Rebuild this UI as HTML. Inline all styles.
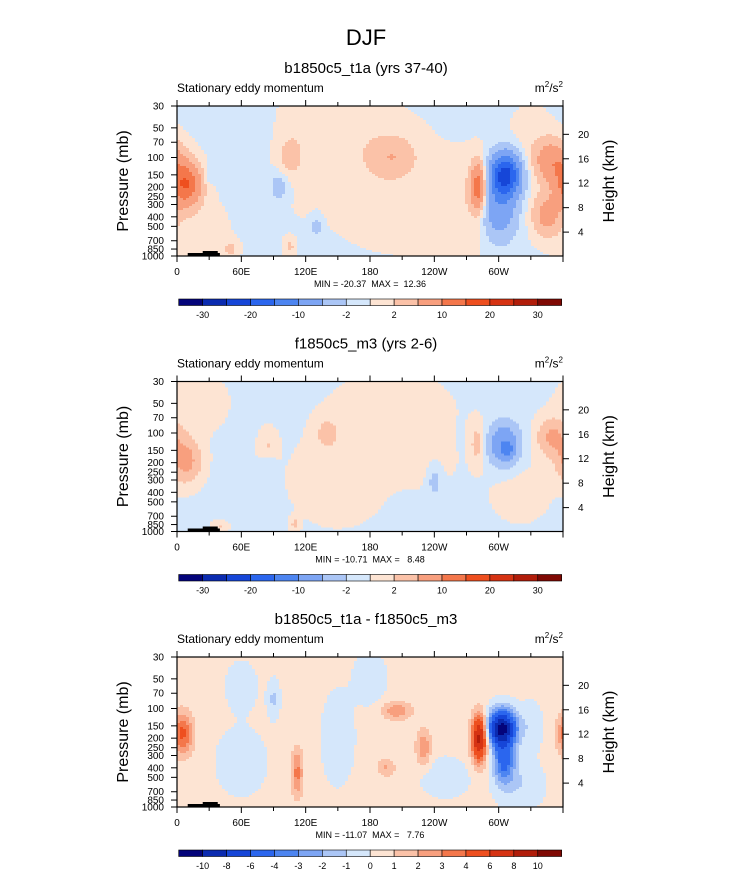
<!DOCTYPE html>
<html><head><meta charset="utf-8">
<style>
body{margin:0;background:#fff;font-family:"Liberation Sans",sans-serif}
svg text{font-family:"Liberation Sans",sans-serif;fill:#000;white-space:pre}
</style></head>
<body>
<svg id="s" width="733" height="888" xmlns="http://www.w3.org/2000/svg">
<text x="366" y="45" font-size="22" text-anchor="middle">DJF</text>
</svg>
<script>
// Data: features [lon(deg E 0-360), pressure(mb), amplitude, sigmaLon(deg), sigmaLnP]
const base1 = -0.4;
const blobs1 = [[8,190,15,10,0.35],[306,150,-22,10,0.35],[300,350,-8,12,0.5],[281,200,13,5,0.4],[350,110,9,12,0.35],[345,380,7,10,0.35],
 [201,100,4,15,0.3],[105,100,3.5,8,0.3],[95,200,-3.5,6,0.25],[130,500,-3,4,0.2],[30,150,-2.5,3,0.15],[105,800,3,4,0.15],[50,850,3,5,0.15],
 [150,60,1.4,30,0.8],[200,250,1.5,60,0.5],[200,70,1.2,25,0.5],[270,300,1.3,20,0.9],[20,600,1.2,20,0.6],[330,60,1.2,15,0.5],[110,45,1.2,10,0.4],[230,650,1.2,40,0.3]];
const base2 = -0.4;
const blobs2 = [[8,190,7,10,0.35],[305,130,-9,10,0.35],[308,150,-6,4,0.12],[350,110,6,10,0.3],[280,130,3.5,5,0.35],[140,100,3,8,0.25],[85,150,3,6,0.3],[85,200,-3,5,0.2],[240,300,-3,5,0.3],
 [110,850,3,3,0.12],[40,900,2.5,5,0.1],[150,300,1.5,30,0.7],[200,60,1.3,40,0.6],[320,400,1.2,20,0.5],[20,50,1.2,20,0.5],[230,200,1.2,20,0.4]];
const base3 = 0.3;
const blobs3 = [[282,200,8.5,5,0.38],[303,160,-11,9,0.3],[305,350,-4.5,7,0.35],[5,180,4,7,0.35],[112,450,3,4,0.4],[205,105,2.5,10,0.15],[230,250,2.5,5,0.3],[195,400,1.8,6,0.15],
 [90,80,-1.5,4,0.3],[150,200,-1.2,10,0.7],[60,350,-1.2,15,0.5],[250,500,-1.2,15,0.3],[320,600,-1.2,15,0.4],[180,50,-1.2,10,0.4],[60,60,-1,10,0.4],[330,150,-1,8,0.4]];
const edges12 = [-30,-25,-20,-15,-10,-5,-2,0,2,5,10,15,20,25,30];
const labels12 = ["-30","-20","-10","-2","2","10","20","30"];
const edges3 = [-10,-8,-6,-4,-3,-2,-1,0,1,2,3,4,6,8,10];
const labels3 = ["-10","-8","-6","-4","-3","-2","-1","0","1","2","3","4","6","8","10"];
const titles = ["b1850c5_t1a (yrs 37-40)","f1850c5_m3 (yrs 2-6)","b1850c5_t1a - f1850c5_m3"];
const minmax = ["MIN = -20.37  MAX =  12.36","MIN = -10.71  MAX =   8.48","MIN = -11.07  MAX =   7.76"];
const pTicks = [30,50,70,100,150,200,250,300,400,500,700,850,1000];
const hTicks = [20,16,12,8,4];
const lonLabels = ["0","60E","120E","180","120W","60W"];
const colors = ["#04047a","#0b2bb0","#1646d8","#2b66ee","#4d85f1","#7da5f4","#abc6f6","#d5e7fb","#fde4d3","#fbc2a8","#f89f7e","#f4774b","#ee4f1f","#d63313","#b11d0a","#7f0904"];

const NS="http://www.w3.org/2000/svg", S=document.getElementById('s');
function mk(t,a,p){const e=document.createElementNS(NS,t);for(const k in a)e.setAttribute(k,a[k]);(p||S).appendChild(e);return e;}
const X0=177,X1=563,W=X1-X0;
function xLon(l){return X0+l/360*W;}
function yP(p,top){return top+150*Math.log(p/30)/Math.log(1000/30);}
function yH(h,top){const p=1013*Math.exp(-h/7);return yP(p,top);}
function field(lon,p,base,blobs){let v=base;const lp=Math.log(p);
 for(const b of blobs){let d=Math.abs(lon-b[0]);if(d>180)d=360-d;const q=(lp-Math.log(b[1]))/b[4];v+=b[2]*Math.exp(-0.5*((d/b[3])**2+q*q));}
 return v;}
function ci(v,edges){let i=0;while(i<edges.length&&v>=edges[i])i++;return i;}

function panel(k,base,blobs,edges,labels,every){
 const off=k*275.5, top=106+off;
 const g=mk('g',{});
 
 
 const t=mk('text',{x:366,y:73+off,'font-size':15,'text-anchor':'middle'},g);t.textContent=titles[k];
 
 const st=mk('text',{x:177,y:92+off,'font-size':12},g);st.textContent='Stationary eddy momentum';
 
 const un=mk('text',{x:563,y:92+off,'font-size':12,'text-anchor':'end'},g);
 un.innerHTML='m<tspan dy="-5" font-size="8">2</tspan><tspan dy="5">/s</tspan><tspan dy="-5" font-size="8">2</tspan>';
 
 const cg=mk('g',{'shape-rendering':'crispEdges'},g);
 
 const cw=3,ch=2;
 for(let y=top;y<top+150;y+=ch){
  const p=30*Math.exp((y+ch/2-top)/150*Math.log(1000/30));
  let runStart=X0,runC=-1;
  for(let x=X0;x<X1;x+=cw){
   const lon=Math.min(359.9,(x+cw/2-X0)/W*360);
   const c=ci(field(lon,p,base,blobs),edges);
   if(c!==runC){
     if(runC>=0){mk('rect',{x:runStart,y:y,width:x-runStart+0.5,height:ch+0.3,fill:colors[runC]},cg);}
     runStart=x;runC=c;}
  }
  mk('rect',{x:runStart,y:y,width:X1-runStart,height:ch+0.3,fill:colors[runC]},cg);
 }
 // topography
 mk('rect',{x:xLon(10),y:top+147,width:xLon(40)-xLon(10),height:3,fill:'#000'},g);
 mk('rect',{x:xLon(24),y:top+145,width:xLon(38)-xLon(24),height:2,fill:'#000'},g);
 const fr=mk('rect',{x:X0,y:top,width:W,height:150,fill:'none',stroke:'#000','stroke-width':1.2},g);
 
 for(let l=0;l<=360;l+=30){const x=xLon(l),L=(l%60===0)?6:4;
  mk('line',{x1:x,x2:x,y1:top,y2:top-L,stroke:'#000'},g);mk('line',{x1:x,x2:x,y1:top+150,y2:top+150+L,stroke:'#000'},g);}
 lonLabels.forEach((s,i)=>{const tx=mk('text',{x:xLon(i*60),y:top+169,'font-size':10,'text-anchor':'middle'},g);tx.textContent=s;
  });
 pTicks.forEach(p=>{const y=yP(p,top);mk('line',{x1:X0,x2:X0-6,y1:y,y2:y,stroke:'#000'},g);
  const tx=mk('text',{x:X0-13,y:y+3.5,'font-size':10,'text-anchor':'end'},g);tx.textContent=p;
  });
 hTicks.forEach(h=>{const y=yH(h,top);mk('line',{x1:X1,x2:X1+6,y1:y,y2:y,stroke:'#000'},g);
  const tx=mk('text',{x:X1+15,y:y+3.5,'font-size':10},g);tx.textContent=h;
  });
 const yl=mk('text',{x:0,y:0,'font-size':16,'text-anchor':'middle',transform:`translate(128,${top+75}) rotate(-90)`},g);yl.textContent='Pressure (mb)';
 
 const yr=mk('text',{x:0,y:0,'font-size':16,'text-anchor':'middle',transform:`translate(614,${top+75}) rotate(-90)`},g);yr.textContent='Height (km)';
 
 const mm=mk('text',{x:370,y:top+181,'font-size':9,'text-anchor':'middle'},g);mm.textContent=minmax[k];
 
 const cb=mk('g',{},g);
 const bx0=178.7,bw=(561.7-178.7)/16,by=top+193;
 colors.forEach((c,i)=>{mk('rect',{x:bx0+i*bw,y:by,width:bw,height:6.5,fill:c,stroke:'#000','stroke-width':0.6},cb);});
 labels.forEach((s,i)=>{const e=1+i*every;const tx=mk('text',{x:bx0+e*bw,y:by+19,'font-size':9,'text-anchor':'middle'},cb);tx.textContent=s;
  });
}
panel(0,base1,blobs1,edges12,labels12,2);
panel(1,base2,blobs2,edges12,labels12,2);
panel(2,base3,blobs3,edges3,labels3,1);
</script>
</body></html>
